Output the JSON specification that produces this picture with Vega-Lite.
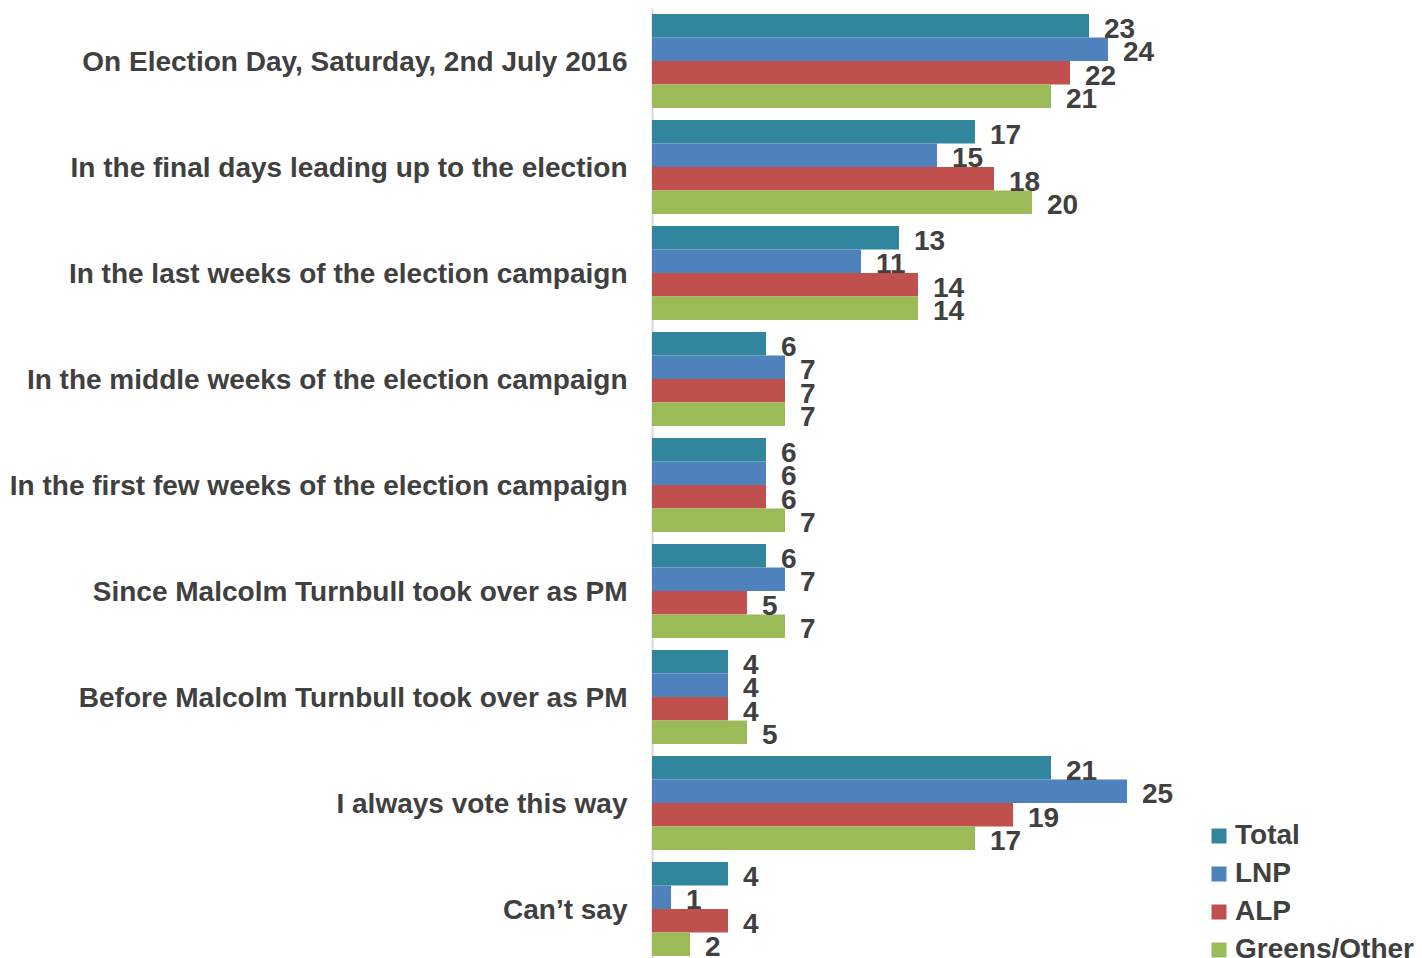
{
  "$schema": "https://vega.github.io/schema/vega-lite/v6.json",
  "width": 770,
  "height": 954,
  "autosize": {"type": "none"},
  "padding": {"left": 652, "top": 8, "right": 0, "bottom": 0},
  "background": "white",
  "config": {"view": {"stroke": null}, "font": "Liberation Sans"},
  "data": {"values": [
    {"category": "On Election Day, Saturday, 2nd July 2016", "series": "Total", "value": 23},
    {"category": "On Election Day, Saturday, 2nd July 2016", "series": "LNP", "value": 24},
    {"category": "On Election Day, Saturday, 2nd July 2016", "series": "ALP", "value": 22},
    {"category": "On Election Day, Saturday, 2nd July 2016", "series": "Greens/Other", "value": 21},
    {"category": "In the final days leading up to the election", "series": "Total", "value": 17},
    {"category": "In the final days leading up to the election", "series": "LNP", "value": 15},
    {"category": "In the final days leading up to the election", "series": "ALP", "value": 18},
    {"category": "In the final days leading up to the election", "series": "Greens/Other", "value": 20},
    {"category": "In the last weeks of the election campaign", "series": "Total", "value": 13},
    {"category": "In the last weeks of the election campaign", "series": "LNP", "value": 11},
    {"category": "In the last weeks of the election campaign", "series": "ALP", "value": 14},
    {"category": "In the last weeks of the election campaign", "series": "Greens/Other", "value": 14},
    {"category": "In the middle weeks of the election campaign", "series": "Total", "value": 6},
    {"category": "In the middle weeks of the election campaign", "series": "LNP", "value": 7},
    {"category": "In the middle weeks of the election campaign", "series": "ALP", "value": 7},
    {"category": "In the middle weeks of the election campaign", "series": "Greens/Other", "value": 7},
    {"category": "In the first few weeks of the election campaign", "series": "Total", "value": 6},
    {"category": "In the first few weeks of the election campaign", "series": "LNP", "value": 6},
    {"category": "In the first few weeks of the election campaign", "series": "ALP", "value": 6},
    {"category": "In the first few weeks of the election campaign", "series": "Greens/Other", "value": 7},
    {"category": "Since Malcolm Turnbull took over as PM", "series": "Total", "value": 6},
    {"category": "Since Malcolm Turnbull took over as PM", "series": "LNP", "value": 7},
    {"category": "Since Malcolm Turnbull took over as PM", "series": "ALP", "value": 5},
    {"category": "Since Malcolm Turnbull took over as PM", "series": "Greens/Other", "value": 7},
    {"category": "Before Malcolm Turnbull took over as PM", "series": "Total", "value": 4},
    {"category": "Before Malcolm Turnbull took over as PM", "series": "LNP", "value": 4},
    {"category": "Before Malcolm Turnbull took over as PM", "series": "ALP", "value": 4},
    {"category": "Before Malcolm Turnbull took over as PM", "series": "Greens/Other", "value": 5},
    {"category": "I always vote this way", "series": "Total", "value": 21},
    {"category": "I always vote this way", "series": "LNP", "value": 25},
    {"category": "I always vote this way", "series": "ALP", "value": 19},
    {"category": "I always vote this way", "series": "Greens/Other", "value": 17},
    {"category": "Can’t say", "series": "Total", "value": 4},
    {"category": "Can’t say", "series": "LNP", "value": 1},
    {"category": "Can’t say", "series": "ALP", "value": 4},
    {"category": "Can’t say", "series": "Greens/Other", "value": 2}
  ]},
  "encoding": {
    "y": {
      "field": "category",
      "type": "nominal",
      "sort": null,
      "scale": {"paddingInner": 0.113, "paddingOuter": 0.0566},
      "axis": {
        "title": null,
        "labelFontSize": 28,
        "labelFontWeight": "bold",
        "labelColor": "#404040",
        "labelPadding": 25,
        "labelOffset": 2,
        "labelLimit": 0,
        "ticks": false,
        "domainColor": "#D9D9D9",
        "domainWidth": 2
      }
    },
    "yOffset": {"field": "series", "type": "nominal", "sort": ["Total", "LNP", "ALP", "Greens/Other"]},
    "x": {"field": "value", "type": "quantitative", "scale": {"domain": [0, 40.526]}, "axis": null}
  },
  "layer": [
    {
      "mark": {"type": "bar"},
      "encoding": {
        "color": {
          "field": "series",
          "type": "nominal",
          "sort": ["Total", "LNP", "ALP", "Greens/Other"],
          "scale": {"domain": ["Total", "LNP", "ALP", "Greens/Other"], "range": ["#31859C", "#4F81BD", "#C0504D", "#9BBB59"]},
          "legend": {
            "orient": "none",
            "legendX": 553,
            "legendY": 814,
            "title": null,
            "padding": 0,
            "labelFontSize": 28,
            "labelFontWeight": "bold",
            "labelColor": "#404040",
            "labelLimit": 0,
            "symbolType": "square",
            "symbolSize": 225,
            "symbolStrokeWidth": 0,
            "labelOffset": 2,
            "rowPadding": 10
          }
        }
      }
    },
    {
      "mark": {"type": "text", "align": "left", "baseline": "middle", "dx": 15, "dy": 4, "fontSize": 28, "fontWeight": "bold", "color": "#404040"},
      "encoding": {"text": {"field": "value", "type": "quantitative"}}
    }
  ]
}
